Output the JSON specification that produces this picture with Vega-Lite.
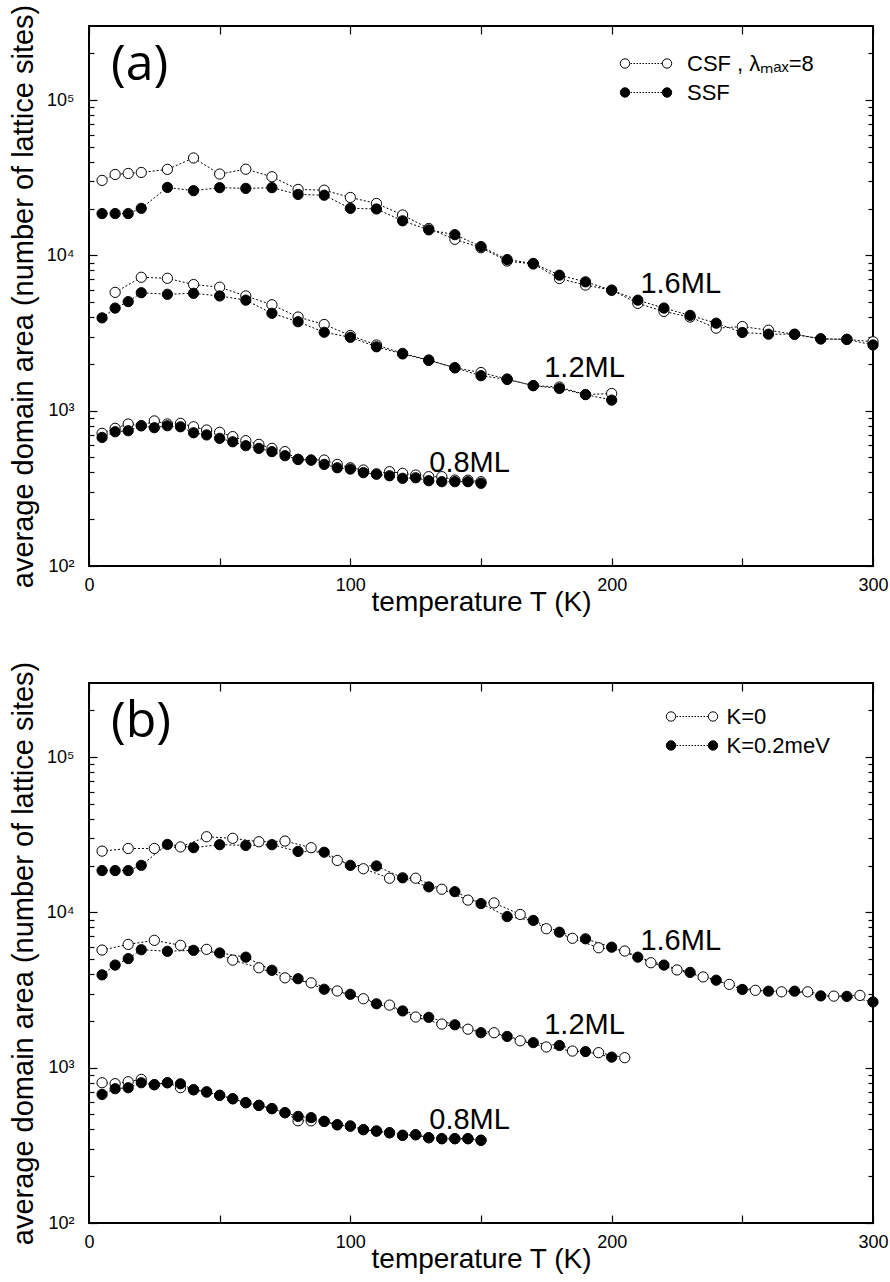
{
"$schema": "https://vega.github.io/schema/vega-lite/v6.json",
"padding": {"left": 8, "top": 3, "right": 10, "bottom": 10},
"bounds": "flush",
"spacing": 117,
"config": {
  "font": "Liberation Sans",
  "view": {"stroke": "black", "strokeWidth": 2},
  "axis": {"domain": false, "grid": false, "tickColor": "black", "tickWidth": 1.2, "labelColor": "black", "titleColor": "black", "labelFont": "Liberation Sans", "titleFont": "Liberation Sans", "labelFontSize": 18, "titleFontSize": 29, "titleFontWeight": "normal"},
  "legend": {"title": null, "orient": "none", "padding": 0, "rowPadding": 7, "symbolSize": 100, "symbolStrokeColor": "black", "symbolStrokeWidth": 1, "labelFont": "Liberation Sans", "labelFontSize": 22, "labelColor": "black", "labelLimit": 400, "symbolOffset": 0,
    "symbolType": "M-5.14,0a0.94,0.94 0 1,0 1.88,0a0.94,0.94 0 1,0 -1.88,0ZM3.26,0a0.94,0.94 0 1,0 1.88,0a0.94,0.94 0 1,0 -1.88,0ZM-3.1,0h0.3M-2.5,0h0.3M-1.9,0h0.3M-1.3,0h0.3M-0.7,0h0.3M-0.1,0h0.3M0.5,0h0.3M1.1,0h0.3M1.7,0h0.3M2.3,0h0.3M2.9,0h0.3"}
},
"datasets": {
"a": [
{"series":"CSF","cov":"1.6","T":5,"area":30400},{"series":"CSF","cov":"1.6","T":10,"area":33200},{"series":"CSF","cov":"1.6","T":15,"area":33700},{"series":"CSF","cov":"1.6","T":20,"area":34200},{"series":"CSF","cov":"1.6","T":30,"area":35800},{"series":"CSF","cov":"1.6","T":40,"area":42400},{"series":"CSF","cov":"1.6","T":50,"area":33400},{"series":"CSF","cov":"1.6","T":60,"area":35900},{"series":"CSF","cov":"1.6","T":70,"area":32100},{"series":"CSF","cov":"1.6","T":80,"area":26600},{"series":"CSF","cov":"1.6","T":90,"area":26300},{"series":"CSF","cov":"1.6","T":100,"area":23600},{"series":"CSF","cov":"1.6","T":110,"area":21600},{"series":"CSF","cov":"1.6","T":120,"area":18200},{"series":"CSF","cov":"1.6","T":130,"area":14900},{"series":"CSF","cov":"1.6","T":140,"area":12700},{"series":"CSF","cov":"1.6","T":150,"area":11200},{"series":"CSF","cov":"1.6","T":160,"area":9200},{"series":"CSF","cov":"1.6","T":170,"area":8800},{"series":"CSF","cov":"1.6","T":180,"area":7100},{"series":"CSF","cov":"1.6","T":190,"area":6440},{"series":"CSF","cov":"1.6","T":200,"area":5970},{"series":"CSF","cov":"1.6","T":210,"area":4910},{"series":"CSF","cov":"1.6","T":220,"area":4360},{"series":"CSF","cov":"1.6","T":230,"area":4010},{"series":"CSF","cov":"1.6","T":240,"area":3400},{"series":"CSF","cov":"1.6","T":250,"area":3480},{"series":"CSF","cov":"1.6","T":260,"area":3300},{"series":"CSF","cov":"1.6","T":270,"area":3100},{"series":"CSF","cov":"1.6","T":280,"area":2900},{"series":"CSF","cov":"1.6","T":290,"area":2880},{"series":"CSF","cov":"1.6","T":300,"area":2780},
{"series":"CSF","cov":"1.2","T":10,"area":5780},{"series":"CSF","cov":"1.2","T":20,"area":7230},{"series":"CSF","cov":"1.2","T":30,"area":7120},{"series":"CSF","cov":"1.2","T":40,"area":6490},{"series":"CSF","cov":"1.2","T":50,"area":6240},{"series":"CSF","cov":"1.2","T":60,"area":5480},{"series":"CSF","cov":"1.2","T":70,"area":4810},{"series":"CSF","cov":"1.2","T":80,"area":4010},{"series":"CSF","cov":"1.2","T":90,"area":3590},{"series":"CSF","cov":"1.2","T":100,"area":3050},{"series":"CSF","cov":"1.2","T":110,"area":2650},{"series":"CSF","cov":"1.2","T":120,"area":2340},{"series":"CSF","cov":"1.2","T":130,"area":2120},{"series":"CSF","cov":"1.2","T":140,"area":1890},{"series":"CSF","cov":"1.2","T":150,"area":1760},{"series":"CSF","cov":"1.2","T":160,"area":1600},{"series":"CSF","cov":"1.2","T":170,"area":1450},{"series":"CSF","cov":"1.2","T":180,"area":1420},{"series":"CSF","cov":"1.2","T":190,"area":1270},{"series":"CSF","cov":"1.2","T":200,"area":1290},
{"series":"CSF","cov":"0.8","T":5,"area":715},{"series":"CSF","cov":"0.8","T":10,"area":770},{"series":"CSF","cov":"0.8","T":15,"area":821},{"series":"CSF","cov":"0.8","T":20,"area":800},{"series":"CSF","cov":"0.8","T":25,"area":859},{"series":"CSF","cov":"0.8","T":30,"area":821},{"series":"CSF","cov":"0.8","T":35,"area":829},{"series":"CSF","cov":"0.8","T":40,"area":788},{"series":"CSF","cov":"0.8","T":45,"area":751},{"series":"CSF","cov":"0.8","T":50,"area":726},{"series":"CSF","cov":"0.8","T":55,"area":681},{"series":"CSF","cov":"0.8","T":60,"area":641},{"series":"CSF","cov":"0.8","T":65,"area":607},{"series":"CSF","cov":"0.8","T":70,"area":572},{"series":"CSF","cov":"0.8","T":75,"area":545},{"series":"CSF","cov":"0.8","T":80,"area":486},{"series":"CSF","cov":"0.8","T":85,"area":481},{"series":"CSF","cov":"0.8","T":90,"area":481},{"series":"CSF","cov":"0.8","T":95,"area":451},{"series":"CSF","cov":"0.8","T":100,"area":429},{"series":"CSF","cov":"0.8","T":105,"area":415},{"series":"CSF","cov":"0.8","T":110,"area":391},{"series":"CSF","cov":"0.8","T":115,"area":405},{"series":"CSF","cov":"0.8","T":120,"area":395},{"series":"CSF","cov":"0.8","T":125,"area":385},{"series":"CSF","cov":"0.8","T":130,"area":376},{"series":"CSF","cov":"0.8","T":135,"area":376},{"series":"CSF","cov":"0.8","T":140,"area":357},{"series":"CSF","cov":"0.8","T":145,"area":357},{"series":"CSF","cov":"0.8","T":150,"area":349},
{"series":"SSF","cov":"1.6","T":5,"area":18600},{"series":"SSF","cov":"1.6","T":10,"area":18600},{"series":"SSF","cov":"1.6","T":15,"area":18600},{"series":"SSF","cov":"1.6","T":20,"area":20100},{"series":"SSF","cov":"1.6","T":30,"area":27400},{"series":"SSF","cov":"1.6","T":40,"area":26100},{"series":"SSF","cov":"1.6","T":50,"area":27300},{"series":"SSF","cov":"1.6","T":60,"area":27000},{"series":"SSF","cov":"1.6","T":70,"area":27300},{"series":"SSF","cov":"1.6","T":80,"area":24700},{"series":"SSF","cov":"1.6","T":90,"area":24400},{"series":"SSF","cov":"1.6","T":100,"area":20100},{"series":"SSF","cov":"1.6","T":110,"area":19900},{"series":"SSF","cov":"1.6","T":120,"area":16700},{"series":"SSF","cov":"1.6","T":130,"area":14600},{"series":"SSF","cov":"1.6","T":140,"area":13600},{"series":"SSF","cov":"1.6","T":150,"area":11400},{"series":"SSF","cov":"1.6","T":160,"area":9400},{"series":"SSF","cov":"1.6","T":170,"area":8880},{"series":"SSF","cov":"1.6","T":180,"area":7460},{"series":"SSF","cov":"1.6","T":190,"area":6760},{"series":"SSF","cov":"1.6","T":200,"area":5970},{"series":"SSF","cov":"1.6","T":210,"area":5150},{"series":"SSF","cov":"1.6","T":220,"area":4580},{"series":"SSF","cov":"1.6","T":230,"area":4110},{"series":"SSF","cov":"1.6","T":240,"area":3660},{"series":"SSF","cov":"1.6","T":250,"area":3190},{"series":"SSF","cov":"1.6","T":260,"area":3110},{"series":"SSF","cov":"1.6","T":270,"area":3110},{"series":"SSF","cov":"1.6","T":280,"area":2900},{"series":"SSF","cov":"1.6","T":290,"area":2880},{"series":"SSF","cov":"1.6","T":300,"area":2650},
{"series":"SSF","cov":"1.2","T":5,"area":3960},{"series":"SSF","cov":"1.2","T":10,"area":4580},{"series":"SSF","cov":"1.2","T":15,"area":5040},{"series":"SSF","cov":"1.2","T":20,"area":5750},{"series":"SSF","cov":"1.2","T":30,"area":5620},{"series":"SSF","cov":"1.2","T":40,"area":5700},{"series":"SSF","cov":"1.2","T":50,"area":5480},{"series":"SSF","cov":"1.2","T":60,"area":5150},{"series":"SSF","cov":"1.2","T":70,"area":4240},{"series":"SSF","cov":"1.2","T":80,"area":3740},{"series":"SSF","cov":"1.2","T":90,"area":3200},{"series":"SSF","cov":"1.2","T":100,"area":2970},{"series":"SSF","cov":"1.2","T":110,"area":2580},{"series":"SSF","cov":"1.2","T":120,"area":2320},{"series":"SSF","cov":"1.2","T":130,"area":2110},{"series":"SSF","cov":"1.2","T":140,"area":1890},{"series":"SSF","cov":"1.2","T":150,"area":1680},{"series":"SSF","cov":"1.2","T":160,"area":1590},{"series":"SSF","cov":"1.2","T":170,"area":1450},{"series":"SSF","cov":"1.2","T":180,"area":1390},{"series":"SSF","cov":"1.2","T":190,"area":1270},{"series":"SSF","cov":"1.2","T":200,"area":1170},
{"series":"SSF","cov":"0.8","T":5,"area":673},{"series":"SSF","cov":"0.8","T":10,"area":732},{"series":"SSF","cov":"0.8","T":15,"area":743},{"series":"SSF","cov":"0.8","T":20,"area":800},{"series":"SSF","cov":"0.8","T":25,"area":777},{"series":"SSF","cov":"0.8","T":30,"area":800},{"series":"SSF","cov":"0.8","T":35,"area":788},{"series":"SSF","cov":"0.8","T":40,"area":721},{"series":"SSF","cov":"0.8","T":45,"area":698},{"series":"SSF","cov":"0.8","T":50,"area":664},{"series":"SSF","cov":"0.8","T":55,"area":631},{"series":"SSF","cov":"0.8","T":60,"area":595},{"series":"SSF","cov":"0.8","T":65,"area":572},{"series":"SSF","cov":"0.8","T":70,"area":545},{"series":"SSF","cov":"0.8","T":75,"area":513},{"series":"SSF","cov":"0.8","T":80,"area":486},{"series":"SSF","cov":"0.8","T":85,"area":481},{"series":"SSF","cov":"0.8","T":90,"area":451},{"series":"SSF","cov":"0.8","T":95,"area":429},{"series":"SSF","cov":"0.8","T":100,"area":421},{"series":"SSF","cov":"0.8","T":105,"area":399},{"series":"SSF","cov":"0.8","T":110,"area":391},{"series":"SSF","cov":"0.8","T":115,"area":381},{"series":"SSF","cov":"0.8","T":120,"area":367},{"series":"SSF","cov":"0.8","T":125,"area":370},{"series":"SSF","cov":"0.8","T":130,"area":354},{"series":"SSF","cov":"0.8","T":135,"area":349},{"series":"SSF","cov":"0.8","T":140,"area":349},{"series":"SSF","cov":"0.8","T":145,"area":349},{"series":"SSF","cov":"0.8","T":150,"area":341}
],
"b": [
{"series":"K=0","cov":"1.6","T":5,"area":24800},{"series":"K=0","cov":"1.6","T":15,"area":25800},{"series":"K=0","cov":"1.6","T":25,"area":25800},{"series":"K=0","cov":"1.6","T":35,"area":26400},{"series":"K=0","cov":"1.6","T":45,"area":30700},{"series":"K=0","cov":"1.6","T":55,"area":30000},{"series":"K=0","cov":"1.6","T":65,"area":28500},{"series":"K=0","cov":"1.6","T":75,"area":28800},{"series":"K=0","cov":"1.6","T":85,"area":26100},{"series":"K=0","cov":"1.6","T":95,"area":21600},{"series":"K=0","cov":"1.6","T":105,"area":19100},{"series":"K=0","cov":"1.6","T":115,"area":16600},{"series":"K=0","cov":"1.6","T":125,"area":16600},{"series":"K=0","cov":"1.6","T":135,"area":14100},{"series":"K=0","cov":"1.6","T":145,"area":12000},{"series":"K=0","cov":"1.6","T":155,"area":11500},{"series":"K=0","cov":"1.6","T":165,"area":9700},{"series":"K=0","cov":"1.6","T":175,"area":7850},{"series":"K=0","cov":"1.6","T":185,"area":6810},{"series":"K=0","cov":"1.6","T":195,"area":5920},{"series":"K=0","cov":"1.6","T":205,"area":5640},{"series":"K=0","cov":"1.6","T":215,"area":4740},{"series":"K=0","cov":"1.6","T":225,"area":4260},{"series":"K=0","cov":"1.6","T":235,"area":3840},{"series":"K=0","cov":"1.6","T":245,"area":3440},{"series":"K=0","cov":"1.6","T":255,"area":3150},{"series":"K=0","cov":"1.6","T":265,"area":3080},{"series":"K=0","cov":"1.6","T":275,"area":3080},{"series":"K=0","cov":"1.6","T":285,"area":2890},{"series":"K=0","cov":"1.6","T":295,"area":2920},
{"series":"K=0","cov":"1.2","T":5,"area":5720},{"series":"K=0","cov":"1.2","T":15,"area":6220},{"series":"K=0","cov":"1.2","T":25,"area":6610},{"series":"K=0","cov":"1.2","T":35,"area":6140},{"series":"K=0","cov":"1.2","T":45,"area":5780},{"series":"K=0","cov":"1.2","T":55,"area":4930},{"series":"K=0","cov":"1.2","T":65,"area":4400},{"series":"K=0","cov":"1.2","T":75,"area":3790},{"series":"K=0","cov":"1.2","T":85,"area":3520},{"series":"K=0","cov":"1.2","T":95,"area":3120},{"series":"K=0","cov":"1.2","T":105,"area":2780},{"series":"K=0","cov":"1.2","T":115,"area":2530},{"series":"K=0","cov":"1.2","T":125,"area":2120},{"series":"K=0","cov":"1.2","T":135,"area":1910},{"series":"K=0","cov":"1.2","T":145,"area":1770},{"series":"K=0","cov":"1.2","T":155,"area":1680},{"series":"K=0","cov":"1.2","T":165,"area":1490},{"series":"K=0","cov":"1.2","T":175,"area":1360},{"series":"K=0","cov":"1.2","T":185,"area":1280},{"series":"K=0","cov":"1.2","T":195,"area":1250},{"series":"K=0","cov":"1.2","T":205,"area":1160},
{"series":"K=0","cov":"0.8","T":5,"area":800},{"series":"K=0","cov":"0.8","T":10,"area":789},{"series":"K=0","cov":"0.8","T":15,"area":812},{"series":"K=0","cov":"0.8","T":20,"area":841},{"series":"K=0","cov":"0.8","T":25,"area":777},{"series":"K=0","cov":"0.8","T":30,"area":800},{"series":"K=0","cov":"0.8","T":35,"area":743},{"series":"K=0","cov":"0.8","T":40,"area":721},{"series":"K=0","cov":"0.8","T":45,"area":698},{"series":"K=0","cov":"0.8","T":50,"area":664},{"series":"K=0","cov":"0.8","T":55,"area":631},{"series":"K=0","cov":"0.8","T":60,"area":595},{"series":"K=0","cov":"0.8","T":65,"area":572},{"series":"K=0","cov":"0.8","T":70,"area":545},{"series":"K=0","cov":"0.8","T":75,"area":513},{"series":"K=0","cov":"0.8","T":80,"area":455},{"series":"K=0","cov":"0.8","T":85,"area":455},{"series":"K=0","cov":"0.8","T":90,"area":451},{"series":"K=0","cov":"0.8","T":95,"area":429},{"series":"K=0","cov":"0.8","T":100,"area":421},{"series":"K=0","cov":"0.8","T":105,"area":399},{"series":"K=0","cov":"0.8","T":110,"area":391},{"series":"K=0","cov":"0.8","T":115,"area":381},{"series":"K=0","cov":"0.8","T":120,"area":367},{"series":"K=0","cov":"0.8","T":125,"area":370},{"series":"K=0","cov":"0.8","T":130,"area":354},{"series":"K=0","cov":"0.8","T":135,"area":349},{"series":"K=0","cov":"0.8","T":140,"area":349},{"series":"K=0","cov":"0.8","T":145,"area":349},{"series":"K=0","cov":"0.8","T":150,"area":341},
{"series":"K=0.2meV","cov":"1.6","T":5,"area":18600},{"series":"K=0.2meV","cov":"1.6","T":10,"area":18600},{"series":"K=0.2meV","cov":"1.6","T":15,"area":18600},{"series":"K=0.2meV","cov":"1.6","T":20,"area":20100},{"series":"K=0.2meV","cov":"1.6","T":30,"area":27400},{"series":"K=0.2meV","cov":"1.6","T":40,"area":26100},{"series":"K=0.2meV","cov":"1.6","T":50,"area":27300},{"series":"K=0.2meV","cov":"1.6","T":60,"area":27000},{"series":"K=0.2meV","cov":"1.6","T":70,"area":27300},{"series":"K=0.2meV","cov":"1.6","T":80,"area":24700},{"series":"K=0.2meV","cov":"1.6","T":90,"area":24400},{"series":"K=0.2meV","cov":"1.6","T":100,"area":20100},{"series":"K=0.2meV","cov":"1.6","T":110,"area":19900},{"series":"K=0.2meV","cov":"1.6","T":120,"area":16700},{"series":"K=0.2meV","cov":"1.6","T":130,"area":14600},{"series":"K=0.2meV","cov":"1.6","T":140,"area":13600},{"series":"K=0.2meV","cov":"1.6","T":150,"area":11400},{"series":"K=0.2meV","cov":"1.6","T":160,"area":9400},{"series":"K=0.2meV","cov":"1.6","T":170,"area":8880},{"series":"K=0.2meV","cov":"1.6","T":180,"area":7460},{"series":"K=0.2meV","cov":"1.6","T":190,"area":6760},{"series":"K=0.2meV","cov":"1.6","T":200,"area":5970},{"series":"K=0.2meV","cov":"1.6","T":210,"area":5150},{"series":"K=0.2meV","cov":"1.6","T":220,"area":4580},{"series":"K=0.2meV","cov":"1.6","T":230,"area":4110},{"series":"K=0.2meV","cov":"1.6","T":240,"area":3660},{"series":"K=0.2meV","cov":"1.6","T":250,"area":3190},{"series":"K=0.2meV","cov":"1.6","T":260,"area":3110},{"series":"K=0.2meV","cov":"1.6","T":270,"area":3110},{"series":"K=0.2meV","cov":"1.6","T":280,"area":2900},{"series":"K=0.2meV","cov":"1.6","T":290,"area":2880},{"series":"K=0.2meV","cov":"1.6","T":300,"area":2650},
{"series":"K=0.2meV","cov":"1.2","T":5,"area":3960},{"series":"K=0.2meV","cov":"1.2","T":10,"area":4580},{"series":"K=0.2meV","cov":"1.2","T":15,"area":5040},{"series":"K=0.2meV","cov":"1.2","T":20,"area":5750},{"series":"K=0.2meV","cov":"1.2","T":30,"area":5620},{"series":"K=0.2meV","cov":"1.2","T":40,"area":5700},{"series":"K=0.2meV","cov":"1.2","T":50,"area":5480},{"series":"K=0.2meV","cov":"1.2","T":60,"area":5150},{"series":"K=0.2meV","cov":"1.2","T":70,"area":4240},{"series":"K=0.2meV","cov":"1.2","T":80,"area":3740},{"series":"K=0.2meV","cov":"1.2","T":90,"area":3200},{"series":"K=0.2meV","cov":"1.2","T":100,"area":2970},{"series":"K=0.2meV","cov":"1.2","T":110,"area":2580},{"series":"K=0.2meV","cov":"1.2","T":120,"area":2320},{"series":"K=0.2meV","cov":"1.2","T":130,"area":2110},{"series":"K=0.2meV","cov":"1.2","T":140,"area":1890},{"series":"K=0.2meV","cov":"1.2","T":150,"area":1680},{"series":"K=0.2meV","cov":"1.2","T":160,"area":1590},{"series":"K=0.2meV","cov":"1.2","T":170,"area":1450},{"series":"K=0.2meV","cov":"1.2","T":180,"area":1390},{"series":"K=0.2meV","cov":"1.2","T":190,"area":1270},{"series":"K=0.2meV","cov":"1.2","T":200,"area":1170},
{"series":"K=0.2meV","cov":"0.8","T":5,"area":673},{"series":"K=0.2meV","cov":"0.8","T":10,"area":732},{"series":"K=0.2meV","cov":"0.8","T":15,"area":743},{"series":"K=0.2meV","cov":"0.8","T":20,"area":800},{"series":"K=0.2meV","cov":"0.8","T":25,"area":777},{"series":"K=0.2meV","cov":"0.8","T":30,"area":800},{"series":"K=0.2meV","cov":"0.8","T":35,"area":788},{"series":"K=0.2meV","cov":"0.8","T":40,"area":721},{"series":"K=0.2meV","cov":"0.8","T":45,"area":698},{"series":"K=0.2meV","cov":"0.8","T":50,"area":664},{"series":"K=0.2meV","cov":"0.8","T":55,"area":631},{"series":"K=0.2meV","cov":"0.8","T":60,"area":595},{"series":"K=0.2meV","cov":"0.8","T":65,"area":572},{"series":"K=0.2meV","cov":"0.8","T":70,"area":545},{"series":"K=0.2meV","cov":"0.8","T":75,"area":513},{"series":"K=0.2meV","cov":"0.8","T":80,"area":486},{"series":"K=0.2meV","cov":"0.8","T":85,"area":477},{"series":"K=0.2meV","cov":"0.8","T":90,"area":451},{"series":"K=0.2meV","cov":"0.8","T":95,"area":429},{"series":"K=0.2meV","cov":"0.8","T":100,"area":421},{"series":"K=0.2meV","cov":"0.8","T":105,"area":399},{"series":"K=0.2meV","cov":"0.8","T":110,"area":391},{"series":"K=0.2meV","cov":"0.8","T":115,"area":381},{"series":"K=0.2meV","cov":"0.8","T":120,"area":367},{"series":"K=0.2meV","cov":"0.8","T":125,"area":370},{"series":"K=0.2meV","cov":"0.8","T":130,"area":354},{"series":"K=0.2meV","cov":"0.8","T":135,"area":349},{"series":"K=0.2meV","cov":"0.8","T":140,"area":349},{"series":"K=0.2meV","cov":"0.8","T":145,"area":349},{"series":"K=0.2meV","cov":"0.8","T":150,"area":341}
],
"ann": [
{"label":"1.6ML","T":211,"area":5710},{"label":"1.2ML","T":174.2,"area":1650},{"label":"0.8ML","T":130.2,"area":405}
],
"tags": [
{"panel":"a","label":"(a)","T":8.4,"area":168000},{"panel":"b","label":"(b)","T":8.4,"area":168000}
]
},
"resolve": {"scale": {"fill": "independent"}, "legend": {"fill": "independent"}},
"vconcat": [
{
 "width": 784, "height": 540,
 "resolve": {"axis": {"x": "independent", "y": "independent"}},
 "layer": [
  {"data": {"name": "a"},
   "mark": {"type": "line", "stroke": "black", "strokeWidth": 1, "strokeDash": [2, 2]},
   "encoding": {
    "x": {"field": "T", "type": "quantitative", "scale": {"domain": [0, 300], "nice": false, "zero": false},
          "axis": {"orient": "bottom", "values": [0, 50, 100, 150, 200, 250, 300], "labelExpr": "datum.value % 100 === 0 ? datum.label : ''", "tickSize": -8, "labelPadding": 18, "labelFlush": false, "labelOverlap": false, "title": "temperature T (K)", "titleFontSize": 28, "titlePadding": -6}},
    "y": {"field": "area", "type": "quantitative", "scale": {"type": "log", "domain": [100, 300000], "nice": false},
          "axis": {"orient": "left", "values": [100, 1000, 10000, 100000], "labelExpr": "datum.value === 100 ? '10²' : datum.value === 1000 ? '10³' : datum.value === 10000 ? '10⁴' : '10⁵'", "tickSize": -8, "labelPadding": 23, "labelOverlap": false, "title": "average domain area (number of lattice sites)", "titlePadding": 8}},
    "detail": [{"field": "series", "type": "nominal"}, {"field": "cov", "type": "nominal"}]
   }},
  {"data": {"name": "a"},
   "mark": {"type": "point", "shape": "circle", "filled": true, "size": 105, "stroke": "black", "strokeWidth": 1, "opacity": 1},
   "encoding": {
    "x": {"field": "T", "type": "quantitative", "axis": {"orient": "top", "values": [0, 50, 100, 150, 200, 250, 300], "labels": false, "tickSize": -8, "title": null}},
    "y": {"field": "area", "type": "quantitative", "scale": {"type": "log"}, "axis": {"orient": "right", "values": [100, 1000, 10000, 100000], "labels": false, "tickSize": -8, "title": null}},
    "fill": {"field": "series", "type": "nominal", "scale": {"domain": ["CSF", "SSF"], "range": ["white", "black"]},
             "legend": {"legendX": 546, "legendY": 26.5, "labelOffset": 30, "labelExpr": "datum.label === 'CSF' ? 'CSF , λₘₐₓ=8' : datum.label"}}
   }},
  {"data": {"name": "ann"},
   "mark": {"type": "text", "align": "left", "baseline": "alphabetic", "fontSize": 29, "font": "Liberation Sans", "color": "black"},
   "encoding": {
    "x": {"field": "T", "type": "quantitative", "axis": null},
    "y": {"field": "area", "type": "quantitative", "scale": {"type": "log"}, "axis": {"orient": "left", "values": [200,300,400,500,600,700,800,900,2000,3000,4000,5000,6000,7000,8000,9000,20000,30000,40000,50000,60000,70000,80000,90000,200000], "labels": false, "tickSize": -5, "title": null}},
    "text": {"field": "label"}
   }},
  {"data": {"name": "tags"}, "transform": [{"filter": "datum.panel === 'a'"}],
   "mark": {"type": "text", "align": "left", "baseline": "middle", "fontSize": 50, "font": "Open Sans", "color": "black"},
   "encoding": {
    "x": {"field": "T", "type": "quantitative", "axis": null},
    "y": {"field": "area", "type": "quantitative", "scale": {"type": "log"}, "axis": {"orient": "right", "values": [200,300,400,500,600,700,800,900,2000,3000,4000,5000,6000,7000,8000,9000,20000,30000,40000,50000,60000,70000,80000,90000,200000], "labels": false, "tickSize": -5, "title": null}},
    "text": {"field": "label"}
   }}
 ]
},
{
 "width": 784, "height": 540,
 "resolve": {"axis": {"x": "independent", "y": "independent"}},
 "layer": [
  {"data": {"name": "b"},
   "mark": {"type": "line", "stroke": "black", "strokeWidth": 1, "strokeDash": [2, 2]},
   "encoding": {
    "x": {"field": "T", "type": "quantitative", "scale": {"domain": [0, 300], "nice": false, "zero": false},
          "axis": {"orient": "bottom", "values": [0, 50, 100, 150, 200, 250, 300], "labelExpr": "datum.value % 100 === 0 ? datum.label : ''", "tickSize": -8, "labelPadding": 18, "labelFlush": false, "labelOverlap": false, "title": "temperature T (K)", "titleFontSize": 28, "titlePadding": -6}},
    "y": {"field": "area", "type": "quantitative", "scale": {"type": "log", "domain": [100, 300000], "nice": false},
          "axis": {"orient": "left", "values": [100, 1000, 10000, 100000], "labelExpr": "datum.value === 100 ? '10²' : datum.value === 1000 ? '10³' : datum.value === 10000 ? '10⁴' : '10⁵'", "tickSize": -8, "labelPadding": 23, "labelOverlap": false, "title": "average domain area (number of lattice sites)", "titlePadding": 8}},
    "detail": [{"field": "series", "type": "nominal"}, {"field": "cov", "type": "nominal"}]
   }},
  {"data": {"name": "b"},
   "mark": {"type": "point", "shape": "circle", "filled": true, "size": 105, "stroke": "black", "strokeWidth": 1, "opacity": 1},
   "encoding": {
    "x": {"field": "T", "type": "quantitative", "axis": {"orient": "top", "values": [0, 50, 100, 150, 200, 250, 300], "labels": false, "tickSize": -8, "title": null}},
    "y": {"field": "area", "type": "quantitative", "scale": {"type": "log"}, "axis": {"orient": "right", "values": [100, 1000, 10000, 100000], "labels": false, "tickSize": -8, "title": null}},
    "fill": {"field": "series", "type": "nominal", "scale": {"domain": ["K=0", "K=0.2meV"], "range": ["white", "black"]},
             "legend": {"legendX": 592, "legendY": 22.5, "labelOffset": 23.5}}
   }},
  {"data": {"name": "ann"},
   "mark": {"type": "text", "align": "left", "baseline": "alphabetic", "fontSize": 29, "font": "Liberation Sans", "color": "black"},
   "encoding": {
    "x": {"field": "T", "type": "quantitative", "axis": null},
    "y": {"field": "area", "type": "quantitative", "scale": {"type": "log"}, "axis": {"orient": "left", "values": [200,300,400,500,600,700,800,900,2000,3000,4000,5000,6000,7000,8000,9000,20000,30000,40000,50000,60000,70000,80000,90000,200000], "labels": false, "tickSize": -5, "title": null}},
    "text": {"field": "label"}
   }},
  {"data": {"name": "tags"}, "transform": [{"filter": "datum.panel === 'b'"}],
   "mark": {"type": "text", "align": "left", "baseline": "middle", "fontSize": 50, "font": "Open Sans", "color": "black"},
   "encoding": {
    "x": {"field": "T", "type": "quantitative", "axis": null},
    "y": {"field": "area", "type": "quantitative", "scale": {"type": "log"}, "axis": {"orient": "right", "values": [200,300,400,500,600,700,800,900,2000,3000,4000,5000,6000,7000,8000,9000,20000,30000,40000,50000,60000,70000,80000,90000,200000], "labels": false, "tickSize": -5, "title": null}},
    "text": {"field": "label"}
   }}
 ]
}
]
}
